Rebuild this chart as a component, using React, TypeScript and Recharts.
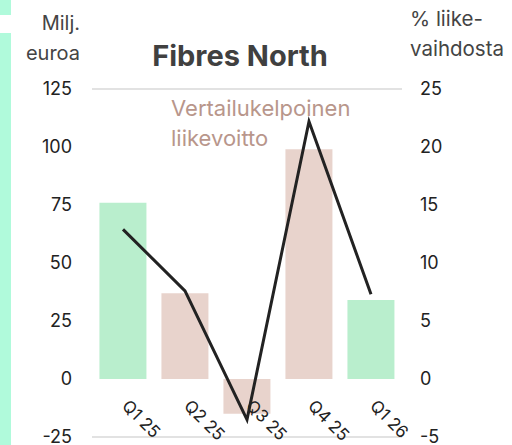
import React from "react";
import {
  ComposedChart,
  Bar,
  Line,
  Cell,
  XAxis,
  YAxis,
  CartesianGrid,
} from "recharts";

/** Quarter labels on the x axis. */
const QUARTERS = ["Q1 25", "Q2 25", "Q3 25", "Q4 25", "Q1 26"];

/** Comparable operating profit, EUR million (left axis). */
const PROFIT = [76, 37, -15, 99, 34];

/** Profit as % of net sales (right axis). */
const MARGIN_PCT = [12.9, 7.6, -3.5, 22.2, 7.3];

const LEFT_TICKS = [-25, 0, 25, 50, 75, 100, 125];
const RIGHT_TICKS = [-5, 0, 5, 10, 15, 20, 25];

const FONT = "Inter, 'Noto Sans', sans-serif";
const TEXT_COLOR = "#222222";
const LABEL_COLOR = "#444444";
const GREEN = "#b9eecd";
const PINK = "#e8d3cc";
const MINT = "#b0fadb";

/** Q1 bars are drawn green, the rest pink. */
const barColor = (quarter: string) => (quarter.startsWith("Q1") ? GREEN : PINK);

function QuarterTick({ x, y, payload }: { x?: number; y?: number; payload?: { value: string } }) {
  if (x == null || y == null || !payload) return null;
  // axis sits at the plot bottom; labels hang just under the zero line
  return (
    <g transform={`translate(${x - 2},${y - 38})`}>
      <text
        transform="rotate(45)"
        textAnchor="start"
        fill={TEXT_COLOR}
        fontSize={17}
        fontFamily={FONT}
      >
        {payload.value}
      </text>
    </g>
  );
}

export default function App() {
  const data = QUARTERS.map((q, i) => ({
    quarter: q,
    profit: PROFIT[i],
    margin: MARGIN_PCT[i],
  }));

  return (
    <div
      style={{
        position: "fixed",
        top: 0,
        left: 0,
        width: 512,
        height: 445,
        background: "#fff",
        fontFamily: FONT,
        overflow: "hidden",
      }}
    >
      {/* mint side strip */}
      <div style={{ position: "absolute", left: 0, top: 0, width: 11, height: 15, background: MINT }} />
      <div style={{ position: "absolute", left: 0, top: 33, width: 11, height: 412, background: MINT }} />

      <ComposedChart
        width={512}
        height={445}
        data={data}
        margin={{ top: 89, right: 0, bottom: 7, left: 0 }}
        barCategoryGap="12%"
        style={{ overflow: "visible" }}
      >
        <CartesianGrid vertical={false} stroke="#c6c6c6" strokeWidth={1.2} />
        <XAxis
          dataKey="quarter"
          height={1}
          axisLine={false}
          tickLine={false}
          interval={0}
          tick={<QuarterTick />}
        />
        <YAxis
          yAxisId="left"
          orientation="left"
          width={92}
          domain={[-25, 125]}
          ticks={LEFT_TICKS}
          interval={0}
          axisLine={false}
          tickLine={false}
          tickMargin={14}
          tick={{ fill: TEXT_COLOR, fontSize: 18, fontFamily: FONT }}
        />
        <YAxis
          yAxisId="right"
          orientation="right"
          width={110}
          domain={[-5, 25]}
          ticks={RIGHT_TICKS}
          interval={0}
          axisLine={false}
          tickLine={false}
          tickMargin={12}
          tick={{ fill: TEXT_COLOR, fontSize: 18, fontFamily: FONT, textAnchor: "start" }}
        />
        <Bar yAxisId="left" dataKey="profit" isAnimationActive={false}>
          {data.map((d) => (
            <Cell key={d.quarter} fill={barColor(d.quarter)} />
          ))}
        </Bar>
        <Line
          yAxisId="right"
          dataKey="margin"
          type="linear"
          stroke="#222222"
          strokeWidth={3}
          dot={false}
          isAnimationActive={false}
        />
      </ComposedChart>

      {/* unit labels, title, annotation */}
      <div
        style={{
          position: "absolute",
          right: 432,
          top: 8,
          textAlign: "right",
          fontSize: 20,
          lineHeight: "30px",
          color: LABEL_COLOR,
        }}
      >
        Milj.
        <br />
        euroa
      </div>
      <div
        style={{
          position: "absolute",
          left: 410,
          top: 4,
          fontSize: 20.5,
          lineHeight: "30px",
          color: LABEL_COLOR,
          whiteSpace: "nowrap",
        }}
      >
        % liike-
        <br />
        vaihdosta
      </div>
      <div
        style={{
          position: "absolute",
          left: 0,
          width: 480,
          top: 38,
          textAlign: "center",
          fontSize: 29,
          fontWeight: 700,
          color: "#404040",
        }}
      >
        Fibres North
      </div>
      <div
        style={{
          position: "absolute",
          left: 171,
          top: 93,
          fontSize: 22,
          lineHeight: "30px",
          color: "#b8968b",
        }}
      >
        Vertailukelpoinen
        <br />
        liikevoitto
      </div>
    </div>
  );
}
